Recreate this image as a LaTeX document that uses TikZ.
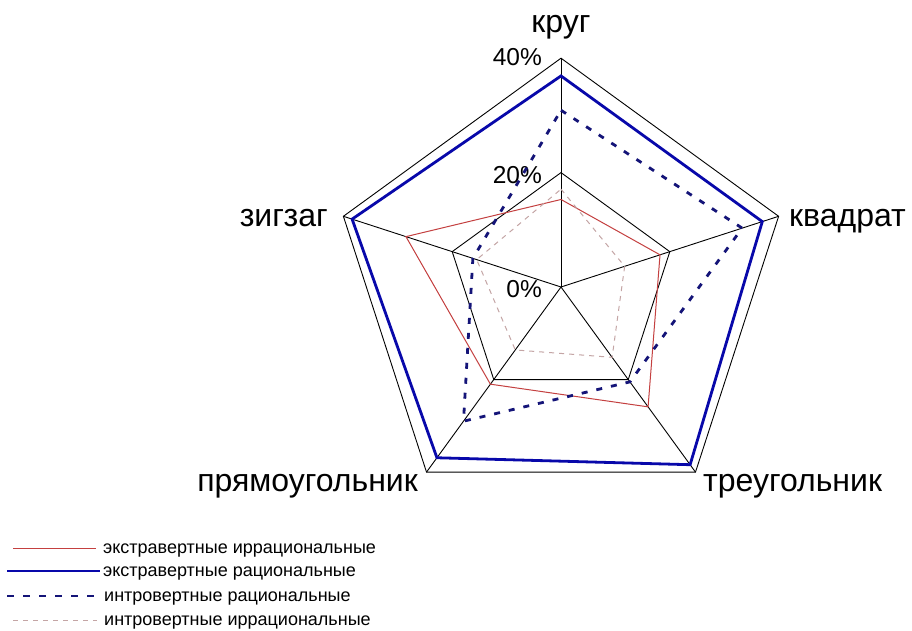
\documentclass[tikz,border=0pt]{standalone}
\usepackage{fontspec}
\setmainfont{Liberation Sans}
\definecolor{serred}{RGB}{196,64,64}
\definecolor{serblue}{RGB}{8,8,170}
\definecolor{sernavy}{RGB}{20,20,120}
\definecolor{sergray}{RGB}{196,165,165}
\tikzset{
  gridline/.style={draw=black,line width=0.9pt},
  sred/.style={draw=serred,line width=1pt},
  sblue/.style={draw=serblue,line width=2.8pt},
  snavy/.style={draw=sernavy,line width=2.8pt,dash pattern=on 6pt off 9pt},
  sgray/.style={draw=sergray,line width=1pt,dash pattern=on 5pt off 5pt},
  axislabel/.style={inner sep=0pt,font=\fontsize{32}{36}\selectfont},
  pctlabel/.style={inner sep=0pt,anchor=base east,font=\fontsize{24.5}{27}\selectfont},
  legtext/.style={inner sep=0pt,anchor=base west,font=\fontsize{18}{21}\selectfont},
}
\begin{document}
\begin{tikzpicture}[x=1pt,y=1pt]
\useasboundingbox (0,-631) rectangle (912,0);
\fill[white] (0,-631) rectangle (912,0);
\def\k{5.72}
\begin{scope}[shift={(561,-287)}]
  \coordinate (c) at (0,0);
  \foreach \a/\n in {90/t,18/r,-54/br,-126/bl,162/l}{
    \coordinate (o\n) at (\a:228.8);
    \coordinate (m\n) at (\a:114.4);
  }
  \foreach \n in {t,r,br,bl,l} \draw[gridline] (c) -- (o\n);
  \draw[gridline] (ot) -- (or) -- (obr) -- (obl) -- (ol) -- cycle;
  \draw[gridline] (mt) -- (mr) -- (mbr) -- (mbl) -- (ml) -- cycle;
\end{scope}
% axis labels
\node[axislabel,anchor=base] (lk) at (561,-33) {круг};
\node[axislabel,anchor=base west] (lq) at (789,-226) {квадрат};
\node[axislabel,anchor=base west] (ltr) at (703,-491) {треугольник};
\node[axislabel,anchor=base east] (lpr) at (418,-491) {прямоугольник};
\node[axislabel,anchor=base east] (lz) at (328,-226) {зигзаг};
% percent labels
\node[pctlabel] (p40) at (542,-66) {40\%};
\node[pctlabel] (p20) at (542,-183) {20\%};
\node[pctlabel] (p0) at (542,-297) {0\%};
% series
\begin{scope}[shift={(561,-287)}]
  \draw[sred] (90:{15.3*\k}) -- (18:{18.2*\k}) -- (-54:{25.9*\k}) -- (-126:{21.0*\k}) -- (162:{28.5*\k}) -- cycle;
  \draw[sblue] (90:{36.9*\k}) -- (18:{37.0*\k}) -- (-54:{38.4*\k}) -- (-126:{36.9*\k}) -- (162:{38.4*\k}) -- cycle;
  \draw[snavy] (90:{30.9*\k}) -- (18:{33.3*\k}) -- (-54:{20.5*\k}) -- (-126:{29.0*\k}) -- (162:{16.2*\k}) -- cycle;
  \draw[sgray] (90:{17.1*\k}) -- (18:{11.7*\k}) -- (-54:{15.2*\k}) -- (-126:{13.6*\k}) -- (162:{15.5*\k}) -- cycle;
\end{scope}
% legend
\coordinate (a1) at (13,-548); \coordinate (b1) at (96,-548);
\coordinate (a2) at (7,-571); \coordinate (b2) at (100,-571);
\coordinate (a3) at (7,-596); \coordinate (b3) at (98,-596);
\coordinate (a4) at (13,-620); \coordinate (b4) at (97,-620);
\draw[sred] (a1) -- (b1);
\draw[sblue] (a2) -- (b2);
\draw[snavy,dash pattern=on 7pt off 9pt] (a3) -- (b3);
\draw[sgray,line width=0.8pt] (a4) -- (b4);
\node[legtext] (t1) at (103,-553) {экстравертные иррациональные};
\node[legtext] (t2) at (103,-576) {экстравертные рациональные};
\node[legtext] (t3) at (104,-601) {интровертные рациональные};
\node[legtext] (t4) at (104,-625) {интровертные иррациональные};
\end{tikzpicture}
\end{document}
